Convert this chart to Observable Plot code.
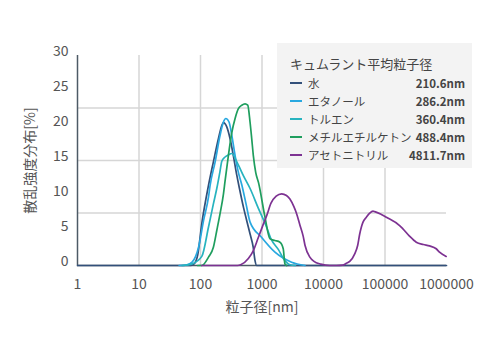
<!DOCTYPE html>
<html>
<head>
<meta charset="utf-8">
<script src="https://cdn.jsdelivr.net/npm/d3@7"></script>
<script src="https://cdn.jsdelivr.net/npm/@observablehq/plot@0.6"></script>
<style>
  html, body { margin: 0; padding: 0; background: #fff; }
  #wrap { position: relative; width: 500px; height: 357px; font-family: "Noto Sans CJK JP", "Noto Sans", sans-serif; }
  #legend { position: absolute; left: 277px; top: 43px; width: 195px; height: 125px; background: #f3f3f3; color: #444; font-size: 11.5px; }
  #legend .row { position: absolute; left: 0; right: 0; height: 18px; line-height: 18px; }
  #legend .title { left: 13px; font-size: 13px; }
  #legend .sw { position: absolute; left: 13px; top: 8px; width: 12px; height: 2px; }
  #legend .nm { position: absolute; left: 31px; }
  #legend .val { position: absolute; right: 7px; font-weight: bold; font-size: 11.5px; }
</style>
</head>
<body>
<div id="wrap"><div id="chart"></div><div id="legend"></div></div>
<script>
// Tick values and gridlines
const xTicks = [1, 10, 100, 1000, 10000, 100000, 1000000];
const yTicks = [0, 5, 10, 15, 20, 25, 30];
const gridX = [10, 100, 1000, 10000, 100000];
const gridY = [7.5, 15, 22.5];

// Legend
const names = ["水", "エタノール", "トルエン", "メチルエチルケトン", "アセトニトリル"];
const means = ["210.6nm", "286.2nm", "360.4nm", "488.4nm", "4811.7nm"];
const colors = ["#33507a", "#29a8e0", "#27b3bf", "#1f9e5e", "#7d3292"];

// Series (particle size nm, scattering intensity %)
const waterX = [1, 70, 80, 90, 105, 134.6, 162, 195.5, 222, 235.6, 267.5, 302.7, 342, 389, 430, 500, 565, 640, 720, 770, 820, 1000000];
const waterY = [0, 0, 0.3, 1.5, 6, 11.4, 14.8, 18.1, 20, 20.4, 19.8, 18.1, 15.7, 12.9, 11, 8.3, 6.4, 4.5, 2.6, 0.7, 0, 0];

const ethanolX = [45, 60, 73, 93, 112, 135, 143, 173, 208, 236, 258, 291, 323, 365, 413, 470, 550, 640, 988, 1625, 3030, 5000];
const ethanolY = [0, 0.1, 0.47, 2.6, 6.4, 9.8, 11.4, 14.8, 18.6, 20.5, 21, 20.5, 18.6, 15.7, 13.3, 11.5, 8.8, 6.2, 4.0, 1.9, 0.47, 0];

const tolueneX = [50, 73, 105, 135, 162, 184, 208, 222, 251, 284, 323, 390, 500, 640, 870, 1150, 1400, 1840, 2360, 2850, 3500];
const tolueneY = [0, 0.24, 1.3, 5.5, 8.8, 11, 13.5, 14.9, 15.5, 15.8, 16, 14.8, 12.8, 11.0, 8.2, 5.8, 3.8, 2.3, 0.7, 0.1, 0];

const mekX = [90, 105, 135, 162, 184, 208, 236, 251, 284, 323, 365, 413, 469, 530, 586, 639, 681, 723, 790, 880, 1119, 1349, 1625, 1958, 2214, 2359, 2514];
const mekY = [0, 0, 1.2, 2.6, 5, 7.4, 10.2, 12.1, 15.7, 19, 21, 22.4, 22.9, 23.1, 22.9, 20.5, 18.1, 15.7, 13.3, 11.8, 6.9, 3.8, 3.57, 3.33, 2.4, 0.24, 0];

const acetonitrileX = [105, 400, 450, 600, 720, 871, 1040, 1200, 1400, 1700, 2085, 2500, 2843, 3300, 3654, 4130, 4670, 5000, 6000, 7000, 9000, 12650, 16250, 20570, 23620, 26720, 32200, 36000, 38800, 41320, 43880, 49860, 56400, 63800, 68000, 87300, 105200, 172900, 195500, 250000, 322400, 420000, 530000, 680400, 770000, 988000];
const acetonitrileY = [0, 0, 0.1, 1.0, 2.1, 4.0, 5.8, 7.2, 8.9, 9.9, 10.24, 10.0, 9.5, 8.4, 7.4, 5.8, 4.2, 2.9, 1.2, 0.6, 0.2, 0, 0, 0.05, 0.33, 0.6, 1.67, 2.9, 4.5, 5.5, 6.2, 6.9, 7.47, 7.76, 7.7, 7.29, 6.9, 5.71, 5.24, 4.2, 3.33, 3.0, 2.8, 2.39, 1.9, 1.3];

const seriesX = [waterX, ethanolX, tolueneX, mekX, acetonitrileX];
const seriesY = [waterY, ethanolY, tolueneY, mekY, acetonitrileY];
const tables = seriesX.map((xs, i) => xs.map((x, j) => ({x, y: seriesY[i][j]})));

const chart = Plot.plot({
  width: 500,
  height: 357,
  marginLeft: 77,
  marginRight: 54,
  marginTop: 55,
  marginBottom: 92,
  style: {fontFamily: "'Noto Sans CJK JP', 'Noto Sans', sans-serif", fontSize: "14px", color: "#555", background: "#fff", overflow: "visible"},
  x: {type: "log", domain: [1, 1000000]},
  y: {domain: [0, 30]},
  marks: [
    Plot.ruleX(gridX, {x: d => d, y1: 0, y2: 30, stroke: "#d6d6d6", strokeWidth: 1.5}),
    Plot.ruleY(gridY, {y: d => d, stroke: "#d6d6d6", strokeWidth: 1.5}),
    Plot.axisX(xTicks, {tickSize: 0, tickPadding: 14, tickFormat: d => String(d), label: "粒子径[nm]", labelAnchor: "center", labelArrow: "none", labelOffset: 46, fill: "#555"}),
    Plot.axisY(yTicks, {tickSize: 0, tickPadding: 9, dy: -4, label: "散乱強度分布[%]", labelAnchor: "center", labelArrow: "none", labelOffset: 52, fill: "#555"}),
    Plot.ruleX([1], {y1: 0, y2: 30, stroke: "#4d5a66", strokeWidth: 1.5}),
    Plot.ruleY([0], {stroke: "#4d5a66", strokeWidth: 1.5}),
    ...tables.map((t, i) => Plot.line(t, {x: "x", y: "y", stroke: colors[i], strokeWidth: 1.7, curve: "monotone-x"}))
  ]
});
document.getElementById("chart").appendChild(chart);

const legend = document.getElementById("legend");
let html = `<div class="row title" style="top:12px">キュムラント平均粒子径</div>`;
names.forEach((n, i) => {
  html += `<div class="row" style="top:${31 + i * 18}px"><div class="sw" style="background:${colors[i]}"></div><span class="nm">${n}</span><span class="val">${means[i]}</span></div>`;
});
legend.innerHTML = html;
</script>
</body>
</html>
